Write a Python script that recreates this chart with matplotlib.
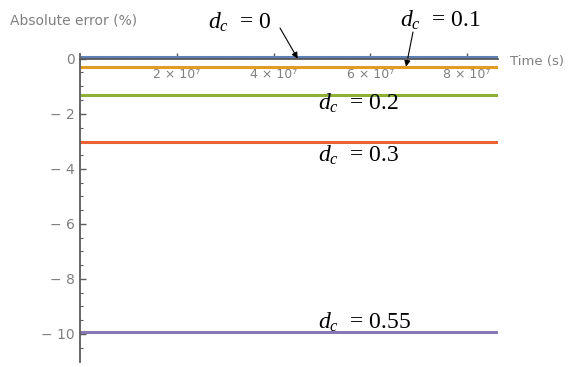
import matplotlib
matplotlib.use('Agg')
import matplotlib.pyplot as plt
import numpy as np

# Mathematica-style constant-error curves for several d_c values
dc_labels = ['0', '0.1', '0.2', '0.3', '0.55']
errors = [0.06, -0.29, -1.33, -3.02, -9.92]
colors = ['#5E81B5', '#E19C24', '#8FB032', '#EB6235', '#8778B3']

t_max = 8.64e7
x_major = [2e7, 4e7, 6e7, 8e7]
x_major_labels = ['2 \u00d7 10\u2077', '4 \u00d7 10\u2077', '6 \u00d7 10\u2077', '8 \u00d7 10\u2077']
y_major = [0, -2, -4, -6, -8, -10]
y_major_labels = ['0', '\u2212 2', '\u2212 4', '\u2212 6', '\u2212 8', '\u2212 10']

plt.rcParams['mathtext.fontset'] = 'custom'
plt.rcParams['mathtext.rm'] = 'Liberation Serif'
plt.rcParams['mathtext.it'] = 'Liberation Serif:italic'

AXIS_COLOR = '#5a5a5a'
LABEL_COLOR = '#808080'

fig = plt.figure(figsize=(5.79, 3.67), dpi=100)
ax = fig.add_axes([80 / 579, 1 - 361.5 / 367, (498 - 80) / 579, (361.5 - 54) / 367])

t = np.array([0, t_max])
for err, color in zip(errors, colors):
    ax.plot(t, [err, err], color=color, lw=2.2, solid_capstyle='butt', zorder=2)

ax.set_xlim(0, t_max)
ax.set_ylim(-11, 0.17)

for side in ['top', 'right']:
    ax.spines[side].set_visible(False)
ax.spines['bottom'].set_position(('data', 0))
ax.spines['left'].set_position(('data', 0))
for side in ['bottom', 'left']:
    ax.spines[side].set_color(AXIS_COLOR)
    ax.spines[side].set_linewidth(1.3)
    ax.spines[side].set_zorder(3)

ax.set_xticks(x_major)
ax.set_xticklabels(x_major_labels)
ax.set_xticks(np.arange(0.5e7, t_max, 0.5e7), minor=True)
ax.set_yticks(y_major)
ax.set_yticklabels(y_major_labels)
ax.set_yticks(np.arange(-10.5, 0, 0.5), minor=True)

ax.tick_params(axis='both', which='both', direction='in', color=AXIS_COLOR)
ax.tick_params(axis='both', which='major', length=4, width=1.0, labelcolor=LABEL_COLOR)
ax.tick_params(axis='both', which='minor', length=2.5, width=0.8)
ax.tick_params(axis='x', which='major', pad=7, labelsize=9)
ax.tick_params(axis='y', which='major', pad=4, labelsize=10)

fig.text(10 / 579, 1 - 20 / 367, 'Absolute error (%)', fontsize=10, color=LABEL_COLOR,
         ha='left', va='center')
fig.text(510 / 579, 1 - 61 / 367, 'Time (s)', fontsize=9.5, color=LABEL_COLOR,
         ha='left', va='center')

label_pos = [(208, 22), (400, 20), (318, 103), (318, 155), (318, 322)]
for lab, (px, py) in zip(dc_labels, label_pos):
    fig.text(px / 579, 1 - py / 367, r'$d_c$  = ' + lab, fontsize=17,
             family='Liberation Serif', ha='left', va='center', color='black')

ax.annotate('', xy=(4.5e7, 0.0), xycoords='data',
            xytext=(280 / 579, 1 - 28 / 367), textcoords='figure fraction',
            arrowprops=dict(arrowstyle='-|>', color='black', lw=0.8, mutation_scale=9,
                            shrinkA=0, shrinkB=0))
ax.annotate('', xy=(6.74e7, errors[1]), xycoords='data',
            xytext=(413 / 579, 1 - 32 / 367), textcoords='figure fraction',
            arrowprops=dict(arrowstyle='-|>', color='black', lw=0.8, mutation_scale=9,
                            shrinkA=0, shrinkB=0))

fig.savefig('out.png', dpi=100)
